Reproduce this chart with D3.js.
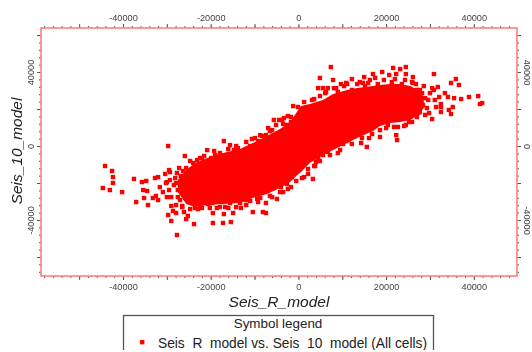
<!DOCTYPE html>
<html>
<head>
<meta charset="utf-8">
<script src="https://cdn.jsdelivr.net/npm/d3@7"></script>
<style>
    html, body { margin: 0; padding: 0; background: #fff; overflow: hidden; }
    svg { display: block; filter: blur(0.35px); }
    text { font-family: "Liberation Sans", Arial, sans-serif; }
</style>
</head>
<body>
<div id="chart"></div>
<script>
// scattered points [Seis_R_model, Seis_10_model]
const scatterLeft = [
    [-44100,-10800],[-42500,-13500],[-42300,-16800],[-42300,-20000],[-44600,-22700],[-43000,-23800],[-40200,-24900],
    [-37500,-17800],[-35700,-19500],[-34700,-18900],[-37000,-30300],[-34300,-31900],[-35400,-23800],[-34500,-24300],
    [-35200,-28100],[-33200,-28100],[-32500,-27000],[-32000,-29200],[-32700,-17300],[-32000,-16800],[-29700,0],
    [-25900,-5400],[-30400,-15100],[-29500,-13000],[-29300,-14100],[-30000,-19500],[-29300,-18400],[-31600,-22200],
    [-30200,-20000],[-30900,-24900],[-29500,-23800],[-30000,-27600],[-29000,-27600],[-29000,-32400],[-27900,-31900],
    [-28600,-35100],[-27900,-36200],[-29700,-37300],[-29000,-40500],[-27700,-48100],[-25600,-39500],[-25200,-37800],
    [-23800,-42200],[-27700,-14600],[-26300,-13500],[-24000,-9200],[-22400,-6500],[-28400,-21100],[-27500,-23800],
    [-28100,-17300],[-27000,-29200],[-26500,-33000],[-27500,-27600],[-26100,-35700],[-26800,-16200],[-27900,-20000],
    [-25600,-11900],[-27200,-11900],[-24700,-8100]
];
const scatterBottom = [
    [-19500,-41600],[-17200,-41600],[-15400,-41100],[-19500,-36200],[-17000,-36800],[-14900,-36200],[-13100,-33500],
    [-10400,-35700],[-8100,-35700],[-7400,-36200],[-22000,-33500],[-18600,-33500],[-16700,-33000],[-11000,-29700],
    [-9400,-28600],[-7400,-30800],[-4900,-28600],[-3500,-24900],[-1700,-22200],[-6900,-23800],[-23600,-33500],
    [-22400,-31900],[-20600,-31400],[-15600,-30800],[-13300,-30800],[-12000,-29200],[-19700,-30800],[-17400,-30300],
    [-8700,-28100],[-6500,-27000],[-4000,-22200],[-2600,-20500],[1300,-16800],[3300,-17800],[-1500,-16800],[2200,-12400],
    [4000,-8600],[4500,-6500],[5600,-4900],[9000,-3800],[10200,1100],[14300,1600],[15600,-500],[16100,4300],[12900,5400],
    [11300,3200],[7900,-500],[6700,-3200],[3800,-10800],
    [-26500,-32400],[-24700,-34100],[-22900,-34100],[-20200,-33500],[-17900,-33000],[-16000,-33500],[-14200,-33000],
    [-11900,-31900],[-9200,-30300],[-6000,-27600],[-4200,-24900],[-2400,-23200],[-500,-18900],[800,-17300],[2200,-15100],
    [3600,-10800],[4900,-8100],[7200,-4900],[9500,-2200],[12200,1100],[14500,4300],[16800,6500],[20000,9700],[21800,10300],
    [24500,11400]
];
const scatterTop = [
    [-20800,-2200],[-17000,2700],[-15600,500],[-13800,-1100],[-11900,-1600],[-9900,4300],[-22000,-6500],[-19900,-6500],
    [-17900,-3800],[-8300,5400],[-7400,5900],[-6900,9700],[-5600,14100],[-4400,14100],[-3300,15100],[-1700,15700],
    [-3500,11900],[-1700,13000],[-1200,21600],[-19000,-4900],[-14700,-2200],[-11000,0],[-9200,2700],[-6000,8600],
    [-2600,11400],[-500,15100],[7400,42700],[4900,36800],[7900,35700],[9700,33500],[12200,36200],[15000,37300],
    [17000,38900],[19100,40000],[21600,42200],[20700,38400],[22300,38900],[23200,41600],[24500,42700],[24500,38900],
    [26100,37300],[4500,31300],[5600,31300],[6700,31300],[8100,31300],[11100,33500],[13400,33500],[14700,34100],
    [16300,35700],[3600,25400],[4900,27000],[10900,34100],[17500,36800],[6100,28600],[9000,29200],[12200,30300],
    [15200,32400],[18100,33500],[21300,34600],[23600,33500],[25900,34600],
    [-23100,-7600],[-21500,-5400],[-19200,-2700],[-16000,-1600],[-14200,0],[-11900,2200],[-10600,3800],[-8700,5900],
    [-6500,8100],[-5100,11400],[-3700,14100],[-2400,16200],[-100,21100],[1300,23800],[3100,24900],[6300,29200],[8600,31300],
    [10400,32400],[14000,34600],[15900,34100],[19500,35700],[22000,36200],[24300,35700],[26800,33500],[28600,32400]
];
const scatterRight = [
    [30900,38900],[35900,36200],[34800,34100],[36600,33000],[30500,31300],[31800,31900],[33400,28600],[34100,26500],
    [35500,25900],[37100,25400],[38900,26500],[41000,27000],[41400,22700],[41900,23200],[35200,21100],[34300,19500],
    [34800,17300],[32500,22700],[32500,21100],[32500,18400],[30500,14600],[29800,17800],[30900,30300],[30000,28600],
    [32100,26500],[28900,25900],[28200,28600],[27000,30300],[26100,34100],[28400,22200],[27700,18400],[27000,15700],
    [25900,13000],[24100,10800],[22700,10300],[20400,11400],[22300,5900],[22500,3200],[18600,8600],[18600,4900],
    [29300,20500],[31100,24900],[29600,24900],[31400,21100],[28900,16800],[27300,17800],[25200,13000],[27700,30300]
];

// the saturated middle of the cloud, where single points can't be told apart: upper and lower edge
const coreX = [-27500,-25600,-23600,-20800,-17200,-13300,-10400,-7200,-4200,-1900,-500,600,2600,5600,7900,11100,13400,17000,18600,20900,23200,25500,27300,28600];
const coreTop = [-18400,-13000,-9200,-6500,-3800,-1600,1600,5400,9200,13000,17800,21600,22700,24900,28100,30300,31300,32400,33000,33500,33500,32400,30300,26500];
const coreBottom = [-24900,-31400,-33000,-31900,-31400,-30800,-28100,-25900,-22700,-19500,-16200,-14100,-9200,-4900,-2200,1600,4300,8100,10800,12400,13000,14100,16800,20500];

const xLabelTicks = [-40000,-20000,0,20000,40000];
const xMajorTicks = [-50000,-30000,-10000,10000,30000];
const xMinorTicks = d3.range(-58000, 50000, 2000);
const yLabelTicks = [-40000,0,40000];
const yMajorTicks = [-60000,-20000,20000,60000];
const yMinorTicks = d3.range(-68000, 64000, 4000);

const width = 532, height = 352;
const margin = { top: 28, right: 15, bottom: 76, left: 41 };

const svg = d3.select("#chart").append("svg")
    .attr("width", width)
    .attr("height", height);

const x = d3.scaleLinear().domain([-58700, 49850]).range([margin.left, width - margin.right]);
const y = d3.scaleLinear().domain([-70270, 63800]).range([height - margin.bottom, margin.top]);

const fmt = d => String(d);
const tickColor = "#555";
const labelColor = "#444";
const frameColor = "#ff8080";

// ticks: minor, unlabelled major, labelled major, per side
function addAxis(axisFn, scale, translate, minor, major, labels, rotate) {
    const place = g => g.attr("transform", translate);
    const clean = g => {
        g.select(".domain").remove();
        g.selectAll("line").attr("stroke", tickColor);
    };
    svg.append("g").call(place)
        .call(axisFn(scale).tickValues(minor).tickSize(2).tickFormat(""))
        .call(clean);
    svg.append("g").call(place)
        .call(axisFn(scale).tickValues(major).tickSize(4).tickFormat(""))
        .call(clean);
    const lab = svg.append("g").call(place)
        .call(axisFn(scale).tickValues(labels).tickSize(4).tickPadding(3).tickFormat(fmt))
        .call(clean);
    lab.selectAll("text")
        .attr("font-family", '"Liberation Sans", Arial, sans-serif')
        .attr("font-size", "9.2px")
        .attr("fill", labelColor);
    if (rotate) rotate(lab.selectAll("text"));
}

addAxis(d3.axisTop, x, `translate(0,${margin.top})`, xMinorTicks, xMajorTicks, xLabelTicks);
addAxis(d3.axisBottom, x, `translate(0,${height - margin.bottom})`, xMinorTicks, xMajorTicks, xLabelTicks);
addAxis(d3.axisLeft, y, `translate(${margin.left},0)`, yMinorTicks, yMajorTicks, yLabelTicks, sel => sel
    .attr("transform", "rotate(-90)")
    .attr("x", 0).attr("y", -7).attr("dy", 0)
    .style("text-anchor", "middle"));
addAxis(d3.axisRight, y, `translate(${width - margin.right},0)`, yMinorTicks, yMajorTicks, yLabelTicks, sel => sel
    .attr("transform", "rotate(90)")
    .attr("x", 0).attr("y", -6.5).attr("dy", 0)
    .style("text-anchor", "middle"));

svg.append("rect")
    .attr("x", margin.left)
    .attr("y", margin.top)
    .attr("width", width - margin.left - margin.right)
    .attr("height", height - margin.top - margin.bottom)
    .attr("fill", "none")
    .attr("stroke", frameColor)
    .attr("stroke-width", 1.6);

const core = d3.area()
    .x((d, i) => x(coreX[i]))
    .y0((d, i) => y(coreBottom[i]))
    .y1((d, i) => y(coreTop[i]));

svg.append("path")
    .attr("d", core(coreX))
    .attr("fill", "#ff0000");

const size = 4.4;
svg.selectAll(".pt")
    .data([...scatterLeft, ...scatterBottom, ...scatterTop, ...scatterRight])
    .enter()
    .append("rect")
    .attr("class", "pt")
    .attr("x", d => x(d[0]) - size / 2)
    .attr("y", d => y(d[1]) - size / 2)
    .attr("width", size)
    .attr("height", size)
    .attr("fill", "#ff0000");

svg.append("text")
    .attr("x", 279)
    .attr("y", 307)
    .attr("text-anchor", "middle")
    .attr("font-size", "15.5px")
    .attr("font-style", "italic")
    .attr("fill", "#222")
    .text("Seis_R_model");

svg.append("text")
    .attr("transform", "translate(22,151) rotate(-90)")
    .attr("text-anchor", "middle")
    .attr("font-size", "15.5px")
    .attr("font-style", "italic")
    .attr("fill", "#222")
    .text("Seis_10_model");

// legend runs off the bottom, the underscores get cut like in the original
svg.append("clipPath").attr("id", "legendClip")
    .append("rect").attr("x", 0).attr("y", 300).attr("width", width).attr("height", 49.5);

const legend = svg.append("g").attr("clip-path", "url(#legendClip)");

legend.append("rect")
    .attr("x", 123.5)
    .attr("y", 315.5)
    .attr("width", 310)
    .attr("height", 60)
    .attr("fill", "#fff")
    .attr("stroke", "#555")
    .attr("stroke-width", 1.3);

legend.append("text")
    .attr("x", 278)
    .attr("y", 328)
    .attr("text-anchor", "middle")
    .attr("font-size", "13.4px")
    .attr("fill", "#222")
    .text("Symbol legend");

legend.append("rect")
    .attr("x", 140)
    .attr("y", 340)
    .attr("width", 4.4)
    .attr("height", 4.4)
    .attr("fill", "#ff0000");

legend.append("text")
    .attr("x", 158)
    .attr("y", 348)
    .attr("font-size", "13.75px")
    .attr("fill", "#222")
    .text("Seis_R_model vs. Seis_10_model (All cells)");
</script>
</body>
</html>
